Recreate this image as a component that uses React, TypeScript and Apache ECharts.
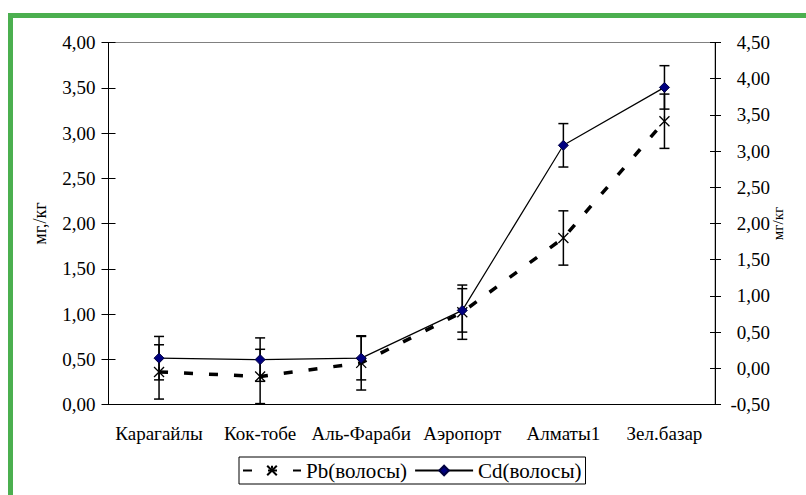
import React, { useEffect, useRef } from "react";
import * as echarts from "echarts";

const categories = ["Карагайлы", "Кок-тобе", "Аль-Фараби", "Аэропорт", "Алматы1", "Зел.базар"];
const pbValues = [0.36, 0.31, 0.46, 1.02, 1.84, 3.13];
const cdValues = [0.14, 0.12, 0.14, 0.8, 3.08, 3.88];
const pbError = 0.3;
const cdError = 0.3;
const pbName = "Pb(волосы)";
const cdName = "Cd(волосы)";
const leftAxisName = "мг,/кг";
const rightAxisName = "мг/кг";

const FONT = "Liberation Serif";
const fmt = (v: number) => v.toFixed(2).replace(".", ",");

function errorData(values: number[], err: number) {
  return values.map((v, i) => [i, v - err, v + err]);
}

function errorRender(params: any, api: any) {
  const x = api.value(0);
  const lo = api.value(1);
  const hi = api.value(2);
  const top = api.coord([x, hi]);
  const bot = api.coord([x, lo]);
  const w = 5;
  const style = { stroke: "#000", lineWidth: 1.5 };
  return {
    type: "group",
    children: [
      { type: "line", shape: { x1: top[0], y1: top[1], x2: bot[0], y2: bot[1] }, style },
      { type: "line", shape: { x1: top[0] - w, y1: top[1], x2: top[0] + w, y2: top[1] }, style },
      { type: "line", shape: { x1: bot[0] - w, y1: bot[1], x2: bot[0] + w, y2: bot[1] }, style },
    ],
  };
}

export default function App() {
  const ref = useRef<HTMLDivElement>(null);
  useEffect(() => {
    if (!ref.current) return;
    const chart = echarts.init(ref.current, null, { renderer: "svg" });
    const labelStyle = { fontFamily: FONT, fontSize: 19, color: "#000" };
    chart.setOption({
      animation: false,
      backgroundColor: "#fff",
      textStyle: { fontFamily: FONT },
      grid: {
        left: 108.5,
        right: 91,
        top: 42.5,
        bottom: 90.5,
        show: true,
        borderColor: "#808080",
        borderWidth: 1,
        backgroundColor: "transparent",
      },
      legend: {
        data: [pbName, cdName],
        left: 239,
        top: 457,
        borderColor: "#000",
        borderWidth: 1,
        padding: [3, 4, 3, 3],
        itemWidth: 58,
        itemHeight: 12,
        itemGap: 7,
        textStyle: { fontFamily: FONT, fontSize: 21, color: "#000" },
      },
      graphic: [
        { type: "rect", shape: { x: 8, y: 13, width: 5, height: 482 }, style: { fill: "#4BAF4F" } },
        { type: "rect", shape: { x: 8, y: 13, width: 798, height: 5 }, style: { fill: "#4BAF4F" } },
      ],
      xAxis: [
        {
          type: "category",
          data: categories,
          boundaryGap: true,
          axisLine: { lineStyle: { color: "#000", width: 1 } },
          axisTick: { length: 6, lineStyle: { color: "#000" } },
          axisLabel: { ...labelStyle, margin: 19, interval: 0 },
          splitLine: { show: false },
        },
        {
          type: "category",
          data: categories,
          position: "bottom",
          boundaryGap: true,
          axisLine: { show: false },
          axisTick: { inside: true, length: 5, lineStyle: { color: "#000" } },
          axisLabel: { show: false },
          splitLine: { show: false },
        },
      ],
      yAxis: [
        {
          type: "value",
          min: 0,
          max: 4,
          interval: 0.5,
          position: "left",
          name: leftAxisName,
          nameLocation: "middle",
          nameGap: 60,
          nameMoveOverlap: false,
          nameTextStyle: { fontFamily: FONT, fontSize: 18, color: "#000" },
          axisLine: { show: true, lineStyle: { color: "#000", width: 1 } },
          axisTick: { show: true, length: 7, lineStyle: { color: "#000" } },
          axisLabel: { ...labelStyle, margin: 13, formatter: fmt },
          splitLine: { show: false },
        },
        {
          type: "value",
          min: -0.5,
          max: 4.5,
          interval: 0.5,
          position: "right",
          name: rightAxisName,
          nameLocation: "middle",
          nameGap: 55,
          nameMoveOverlap: false,
          nameTextStyle: { fontFamily: FONT, fontSize: 15, color: "#000" },
          axisLine: { show: true, lineStyle: { color: "#000", width: 1 } },
          axisTick: { show: true, length: 6, lineStyle: { color: "#000" } },
          axisLabel: { ...labelStyle, margin: 55, align: "right", formatter: fmt },
          splitLine: { show: false },
        },
        {
          type: "value",
          min: 0,
          max: 4,
          interval: 0.5,
          position: "left",
          axisLine: { show: false },
          axisTick: { show: true, inside: true, length: 7, lineStyle: { color: "#000" } },
          axisLabel: { show: false },
          splitLine: { show: false },
        },
        {
          type: "value",
          min: -0.5,
          max: 4.5,
          interval: 0.5,
          position: "right",
          axisLine: { show: false },
          axisTick: { show: true, inside: true, length: 5, lineStyle: { color: "#000" } },
          axisLabel: { show: false },
          splitLine: { show: false },
        },
      ],
      series: [
        {
          name: pbName,
          type: "line",
          yAxisIndex: 0,
          data: pbValues,
          symbol: "path://M0,0L10,10M10,0L0,10M5,0L5,3",
          symbolSize: 10,
          itemStyle: { color: "none", borderColor: "#000", borderWidth: 1.3 },
          lineStyle: { color: "#000", width: 3.5, type: [9, 16] },
          z: 3,
        },
        {
          name: cdName,
          type: "line",
          yAxisIndex: 1,
          data: cdValues,
          symbol: "diamond",
          symbolSize: 10,
          itemStyle: { color: "#000080", borderColor: "#000040", borderWidth: 1 },
          lineStyle: { color: "#000", width: 1.2, type: "solid" },
          z: 4,
        },
        {
          name: "pbErr",
          type: "custom",
          yAxisIndex: 0,
          data: errorData(pbValues, pbError),
          renderItem: errorRender,
          encode: { x: 0, y: [1, 2] },
          silent: true,
          z: 2,
        },
        {
          name: "cdErr",
          type: "custom",
          yAxisIndex: 1,
          data: errorData(cdValues, cdError),
          renderItem: errorRender,
          encode: { x: 0, y: [1, 2] },
          silent: true,
          z: 2,
        },
      ],
    });
    return () => chart.dispose();
  }, []);
  return (
    <div
      ref={ref}
      style={{ position: "fixed", left: 0, top: 0, width: 806, height: 495, background: "#fff" }}
    />
  );
}
